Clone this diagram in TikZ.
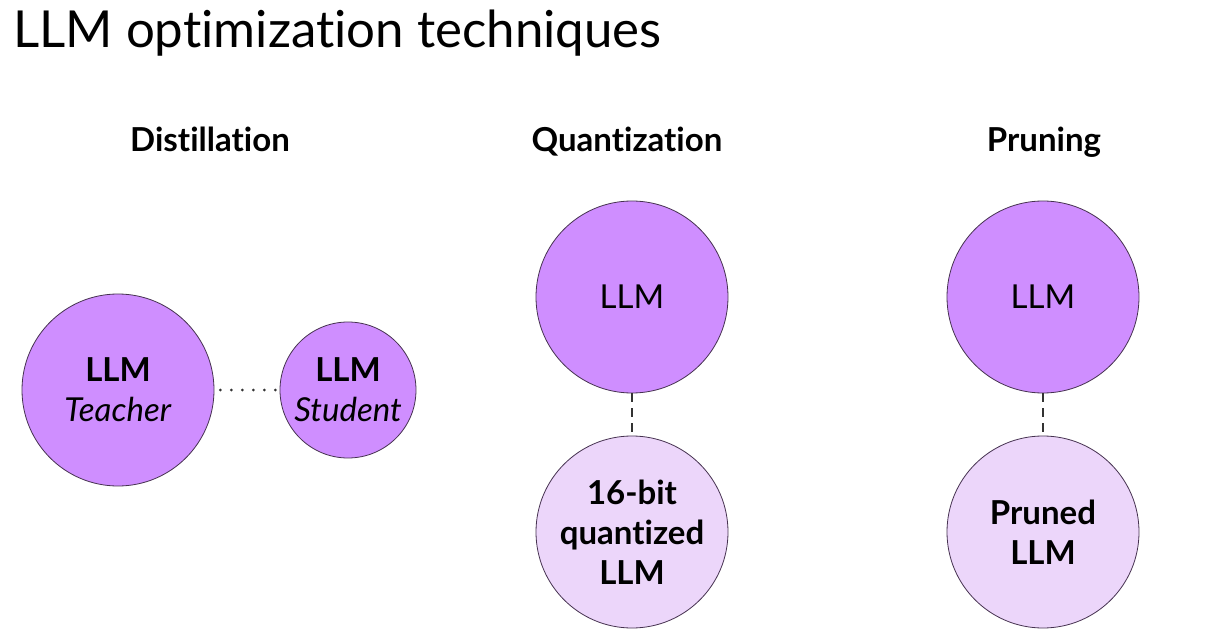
\documentclass[tikz,border=0pt]{standalone}
\usepackage{fontspec}
\setmainfont{Lato}[Ligatures={NoCommon,NoRare}]
\definecolor{dark}{RGB}{207,142,255}
\definecolor{light}{RGB}{236,214,250}
\definecolor{edge}{RGB}{70,50,80}
\newcommand{\tI}{t\kern0pt i}
\begin{document}
\begin{tikzpicture}[x=1pt,y=-1pt,
  big/.style={circle,draw=edge,line width=0.8pt,minimum size=192pt,inner sep=0pt,align=center,font=\fontsize{33}{40}\selectfont},
  small/.style={big,minimum size=136pt},
  darkfill/.style={fill=dark},
  lightfill/.style={fill=light},
  heading/.style={font=\fontsize{33}{38}\bfseries\selectfont,anchor=base},
  conn/.style={line width=1.6pt,black!80}]
\useasboundingbox[fill=white] (0,0) rectangle (1211,631);
\node[anchor=base west,font=\fontsize{51}{60}\selectfont,inner sep=0pt] (title) at (13,48) {LLM op\tI mizat\kern0pt ion techniques};
\node[heading] (h1) at (210,152) {Dis\tI lla\tI on};
\node[heading] (h2) at (627,152) {Quan\tI za\tI on};
\node[heading] (h3) at (1044,152) {Pruning};
\node[big,darkfill] (teacher) at (118,390) {\textbf{LLM}\\\textit{Teacher}};
\node[small,darkfill] (student) at (348,390) {\textbf{LLM}\\\textit{Student}};
\node[big,darkfill] (q1) at (632,297) {LLM};
\node[big,lightfill] (q2) at (632,532) {\textbf{16-bit}\\\textbf{quantized}\\\textbf{LLM}};
\node[big,darkfill] (p1) at (1043,297) {LLM};
\node[big,lightfill] (p2) at (1043,532) {\textbf{Pruned}\\\textbf{LLM}};
\draw[conn,line cap=round,dash pattern=on 0pt off 11pt,line width=3pt] ([xshift=6pt]teacher.east) -- (student.west);
\draw[conn,dash pattern=on 9pt off 6pt] (q1.south) -- (q2.north);
\draw[conn,dash pattern=on 9pt off 6pt] (p1.south) -- (p2.north);
\end{tikzpicture}
\end{document}
